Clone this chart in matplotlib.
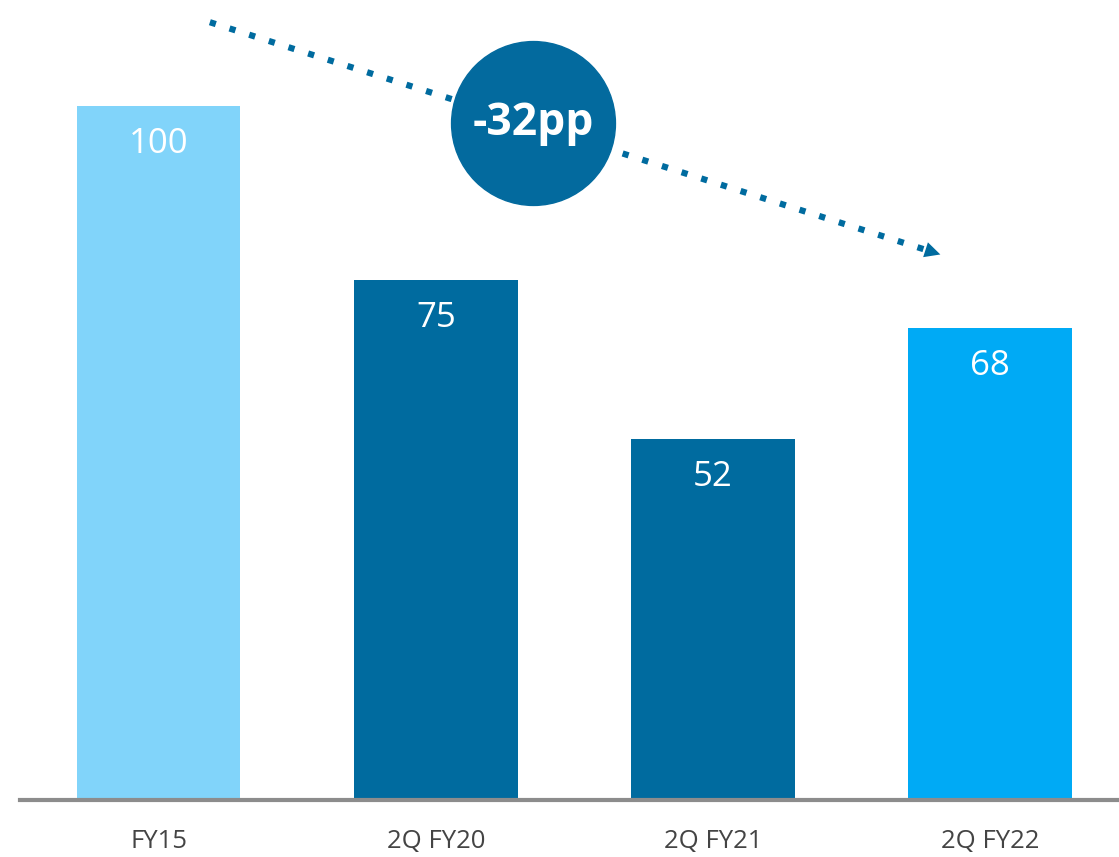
import matplotlib
matplotlib.use('Agg')
import matplotlib.pyplot as plt

categories = ['FY15', '2Q FY20', '2Q FY21', '2Q FY22']
values = [100, 75, 52, 68]
bar_colors = ['#81D4FA', '#006B9F', '#006B9F', '#00AAF5']
change_label = '-32pp'

fig = plt.figure(figsize=(11.19, 8.57), dpi=100)
ax = fig.add_axes([20/1119, 57/857, 1099/1119, 800/857])

x = range(len(categories))
bars = ax.bar(x, values, width=0.59, color=bar_colors, zorder=2)

for xi, v in zip(x, values):
    ax.text(xi, v - 5.5, str(v), ha='center', va='center', color='white',
            fontsize=25, family='Open Sans', zorder=3)

ax.set_xlim(-0.5, 3.465)
ax.set_ylim(0, 115.3)
ax.set_xticks(list(x))
ax.set_xticklabels(categories, fontsize=18.5, color='#444444', family='Open Sans')
ax.tick_params(axis='x', length=0, pad=21)
ax.set_yticks([])
for s in ['top', 'left', 'right']:
    ax.spines[s].set_visible(False)
ax.spines['bottom'].set_color('#8C8C8C')
ax.spines['bottom'].set_linewidth(3)
ax.spines['bottom'].set_zorder(4)

# trend arrow (dotted) from FY15 toward 2Q FY22
arrow_col = '#006B9F'
x0, y0 = 0.185, 112.1
x1, y1 = 2.83, 78.5
ax.plot([x0, x1 - 0.03], [y0, y1 + 0.38], color=arrow_col, lw=4.5,
        linestyle=(0, (1, 2.3)), dash_capstyle='butt', zorder=3, clip_on=False)
ax.annotate('', xy=(x1, y1), xytext=(x1 - 0.05, y1 + 0.64),
            arrowprops=dict(arrowstyle='-|>', color=arrow_col, lw=0,
                            mutation_scale=28), zorder=3)

# badge
ax.scatter([1.351], [97.55], s=118**2, color='#036A9E', zorder=5, clip_on=False)
ax.text(1.351, 97.55, change_label, ha='center', va='center', color='white',
        fontsize=32, fontweight='bold', family='Open Sans', zorder=6)

fig.savefig('out.png', dpi=100)
